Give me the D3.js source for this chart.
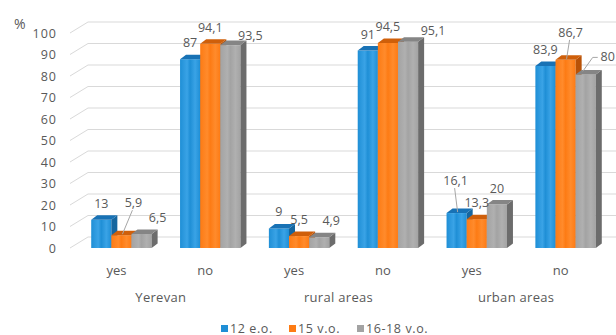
<!DOCTYPE html>
<html><head><meta charset="utf-8">
<script src="https://cdn.jsdelivr.net/npm/d3@7"></script>
<style>body{margin:0;background:#fff}svg{display:block}text{font-family:"Open Sans",sans-serif;fill:#595959}</style>
</head><body><svg id="c" width="616" height="335"></svg>
<script>
const regions = ["Yerevan", "rural areas", "urban areas"];
const answers = ["yes", "no"];
const seriesNames = ["12 e.o.", "15 v.o.", "16-18 v.o."];
const s12 = [13, 87, 9, 91, 16.1, 83.9];
const s15 = [5.9, 94.1, 5.5, 94.5, 13.3, 86.7];
const s16 = [6.5, 93.5, 4.9, 95.1, 20, 80];
const yTicks = [0, 10, 20, 30, 40, 50, 60, 70, 80, 90, 100];

const seriesVals = [s12, s15, s16];
const colors = [
  {front:"#1f8fd6", light:"#3aa3e6", side:"#15669f", top:"#1872b5"},
  {front:"#fd7b14", light:"#ff8b2c", side:"#b95207", top:"#cf5f0a"},
  {front:"#a3a3a3", light:"#b0b0b0", side:"#6c6c6c", top:"#858585"}
];
// label placement tweaks (layout only)
const labelAdjust = {
  "0-1": {dx:12, dy:-16, leader:true},
  "0-2": {dx:16, dy:0},
  "1-2": {dx:20, dy:7},
  "2-2": {dx:12, dy:0},
  "3-2": {dx:25, dy:5},
  "4-0": {dx:-1, dy:-16, leader:true},
  "5-1": {dx:5, dy:-11, leader:true},
  "5-2": {dx:22, dy:-1, leader:"elbow"}
};

const svg = d3.select("#c");
const cats = [];
regions.forEach(r => answers.forEach(a => cats.push(r + "|" + a)));

const x = d3.scaleBand().domain(cats).range([77, 610]).paddingInner(0.32).paddingOuter(0.16);
const xs = d3.scaleBand().domain(d3.range(3)).range([0, x.bandwidth()]);
const y = d3.scaleLinear().domain([0, 100]).range([248, 33]);
const yb = d3.scaleLinear().domain([0, 100]).range([248, 31]);
const DX = 18, DY = -11;   // wall depth
const bdx = 6, bdy = -4.5; // bar depth

const defs = svg.append("defs");
colors.forEach((c, i) => {
  const g = defs.append("linearGradient").attr("id", "g" + i).attr("x1", 0).attr("x2", 1).attr("y1", 0).attr("y2", 0);
  [[0, c.front], [0.35, c.light], [0.5, c.front], [0.75, c.light], [1, c.front]].forEach(([o, col]) =>
    g.append("stop").attr("offset", o).attr("stop-color", col));
});

// gridlines
const grid = svg.append("g").attr("stroke", "#d9d9d9").attr("stroke-width", 1).attr("fill", "none");
yTicks.forEach(t => {
  const yy = y(t);
  grid.append("path").attr("d", `M70,${yy}L${70 + DX},${yy + DY}L616,${yy + DY}`);
});

// y axis labels
svg.append("g").selectAll("text").data(yTicks).join("text")
  .attr("x", 57).attr("y", d => y(d) + 4.5).attr("text-anchor", "end")
  .attr("font-size", 12.5).attr("letter-spacing", 1).text(d => d);
svg.append("text").attr("x", 14).attr("y", 29).attr("font-size", 14).text("%");

// bars
const base = yb(0);
const barG = svg.append("g");
cats.forEach((cat, ci) => {
  seriesVals.forEach((vals, si) => {
    const v = vals[ci];
    const x0 = x(cat) + xs(si), w = xs.bandwidth(), yt = yb(v);
    const c = colors[si];
    barG.append("rect").attr("x", x0).attr("y", yt).attr("width", w).attr("height", base - yt).attr("fill", `url(#g${si})`);
    barG.append("polygon").attr("points", [[x0 + w, yt], [x0 + w + bdx, yt + bdy], [x0 + w + bdx, base + bdy], [x0 + w, base]].join(" ")).attr("fill", c.side);
    barG.append("polygon").attr("points", [[x0, yt], [x0 + bdx, yt + bdy], [x0 + w + bdx, yt + bdy], [x0 + w, yt]].join(" ")).attr("fill", c.top);
  });
});

// data labels
const lab = svg.append("g");
cats.forEach((cat, ci) => {
  seriesVals.forEach((vals, si) => {
    const v = vals[ci];
    const cx = x(cat) + xs(si) + xs.bandwidth() / 2, yt = yb(v);
    const adj = labelAdjust[ci + "-" + si] || {dx:0, dy:0};
    const lx = cx + adj.dx, ly = yt - 12 + adj.dy;
    lab.append("text").attr("x", lx).attr("y", ly).attr("text-anchor", "middle").attr("font-size", 12.5)
      .text(String(v).replace(".", ","));
    if (adj.leader === true) {
      lab.append("line").attr("x1", lx - 1).attr("y1", ly + 3).attr("x2", cx + 1).attr("y2", yt - 1)
        .attr("stroke", "#a6a6a6").attr("stroke-width", 1);
    } else if (adj.leader === "elbow") {
      lab.append("path").attr("d", `M${lx - 10},${ly - 4}L${lx - 15},${ly - 4}L${cx - 3},${yt - 3}`)
        .attr("stroke", "#a6a6a6").attr("fill", "none").attr("stroke-width", 1);
    }
  });
});

// category labels
svg.append("g").selectAll("text").data(cats).join("text")
  .attr("x", d => x(d) + x.bandwidth() / 2 - 5).attr("y", 275).attr("text-anchor", "middle")
  .attr("font-size", 13).text(d => d.split("|")[1]);
svg.append("g").selectAll("text").data(regions).join("text")
  .attr("x", r => (x(r + "|yes") + x(r + "|no") + x.bandwidth()) / 2 - 5).attr("y", 302).attr("text-anchor", "middle")
  .attr("font-size", 13).attr("letter-spacing", 0.3).text(d => d);

// legend
const legX = [221, 289, 357];
const leg = svg.append("g");
seriesNames.forEach((n, i) => {
  leg.append("rect").attr("x", legX[i]).attr("y", 325).attr("width", 7).attr("height", 7).attr("fill", colors[i].front);
  leg.append("text").attr("x", legX[i] + 9).attr("y", 332.5).attr("font-size", 12.5).attr("letter-spacing", 0.6).text(n);
});
</script></body></html>
